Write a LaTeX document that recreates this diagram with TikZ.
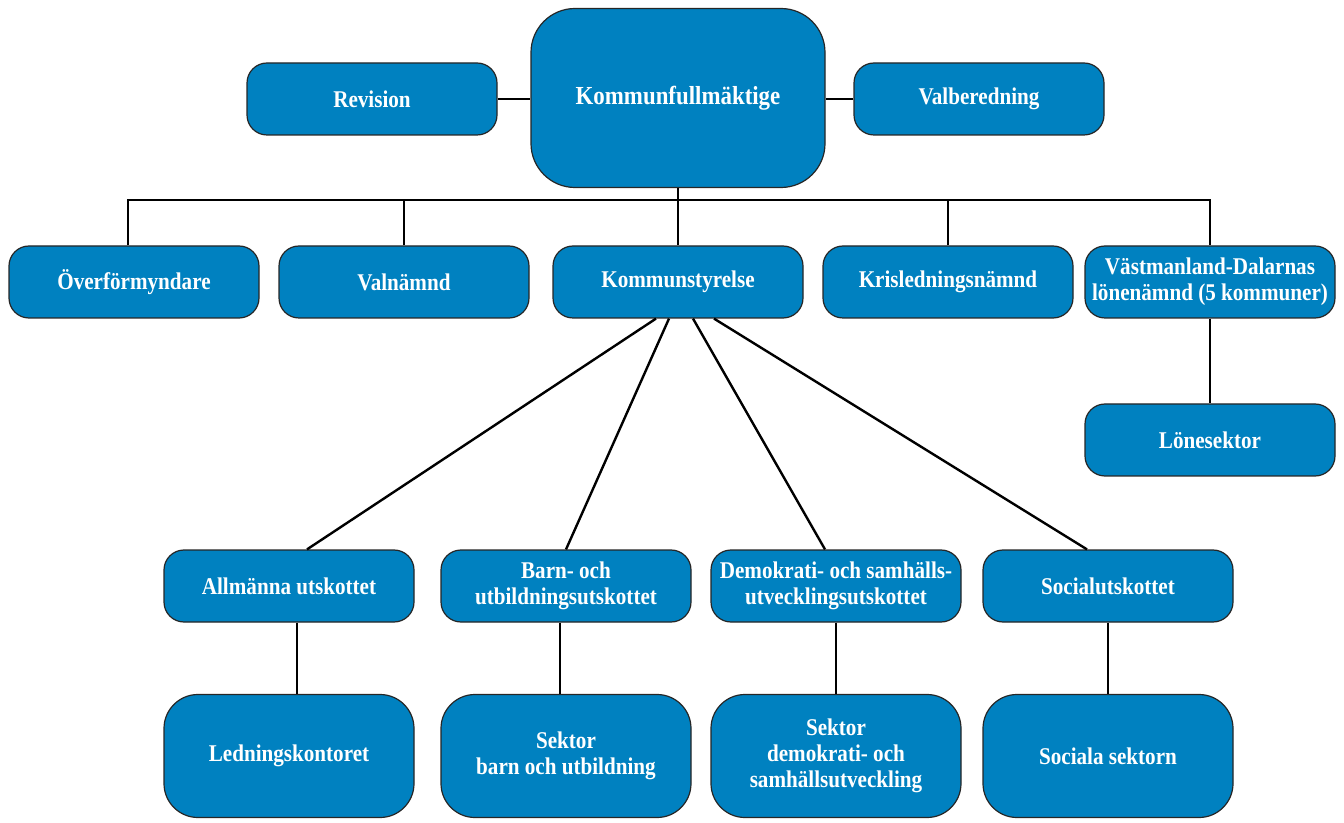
\documentclass[tikz,border=0pt]{standalone}
\usepackage{fontspec}
\setmainfont[FakeStretch=0.88]{Liberation Serif}
\usetikzlibrary{calc}

\definecolor{orgblue}{RGB}{0,129,192}

\tikzset{
  unit/.style={draw=black!85, line width=0.6pt, fill=orgblue, rounded corners=10pt,
    minimum width=125pt, minimum height=36pt, inner sep=2pt, text=white, align=center,
    font=\bfseries\fontsize{12}{13}\selectfont},
  bigunit/.style={unit, minimum height=61.5pt, rounded corners=17pt},
  link/.style={line width=1.2pt}
}

\begin{document}
\begin{tikzpicture}[x=0.5pt,y=-0.5pt]

  \useasboundingbox (0,0) rectangle (1344,823);

  % top level
  \node[unit, minimum width=147pt, minimum height=89.5pt, rounded corners=22pt,
        font=\bfseries\fontsize{13}{14}\selectfont] (kf) at (678,98) {Kommunfullmäktige};
  \node[unit] (rev)  at (372,99) {Revision};
  \node[unit] (valb) at (979,99) {Valberedning};

  % nämnder
  \node[unit] (ofm)  at (134,282) {Överförmyndare};
  \node[unit] (valn) at (404,282) {Valnämnd};
  \node[unit] (ks)   at (678,282) {Kommunstyrelse};
  \node[unit] (kris) at (948,282) {Krisledningsnämnd};
  \node[unit] (vdl)  at (1210,282) {Västmanland-Dalarnas\\lönenämnd (5 kommuner)};
  \node[unit] (lon)  at (1210,440) {Lönesektor};

  % utskott
  \node[unit] (allm) at (289,586) {Allmänna utskottet};
  \node[unit] (barn) at (566,586) {Barn- och\\utbildningsutskottet};
  \node[unit] (demo) at (836,586) {Demokrati- och samhälls-\\utvecklingsutskottet};
  \node[unit] (soc)  at (1108,586) {Socialutskottet};

  % sektorer
  \node[bigunit] (led)   at (289,756) {Ledningskontoret};
  \node[bigunit] (sbarn) at (566,756) {Sektor\\barn och utbildning};
  \node[bigunit] (sdemo) at (836,756) {Sektor\\demokrati- och\\samhällsutveckling};
  \node[bigunit] (ssoc)  at (1108,756) {Sociala sektorn};

  % connectors
  \coordinate (bus) at (678,200);
  \draw[link] (rev.east) -- (rev.east -| kf.west);
  \draw[link] (valb.west) -- (valb.west -| kf.east);
  \draw[link] ([xshift=-3pt]ofm.north) |- (bus) -| (vdl.north);
  \draw[link] (kf.south) -- (ks.north);
  \draw[link] (valn.north) -- (valn.north |- bus);
  \draw[link] (kris.north) -- (kris.north |- bus);
  \draw[link] (vdl) -- (lon);

  \draw[link] ([xshift=-11pt]ks.south) -- ([xshift=9pt]allm.north);
  \draw[link] ([xshift=-4.5pt]ks.south) -- (barn.north);
  \draw[link] ([xshift=7.5pt]ks.south) -- ([xshift=-5.5pt]demo.north);
  \draw[link] ([xshift=18pt]ks.south) -- ([xshift=-10.5pt]soc.north);

  \draw[link] ([xshift=4pt]allm.south) -- ([xshift=4pt]led.north);
  \draw[link] ([xshift=-3pt]barn.south) -- ([xshift=-3pt]sbarn.north);
  \draw[link] (demo) -- (sdemo);
  \draw[link] (soc) -- (ssoc);

\end{tikzpicture}
\end{document}
